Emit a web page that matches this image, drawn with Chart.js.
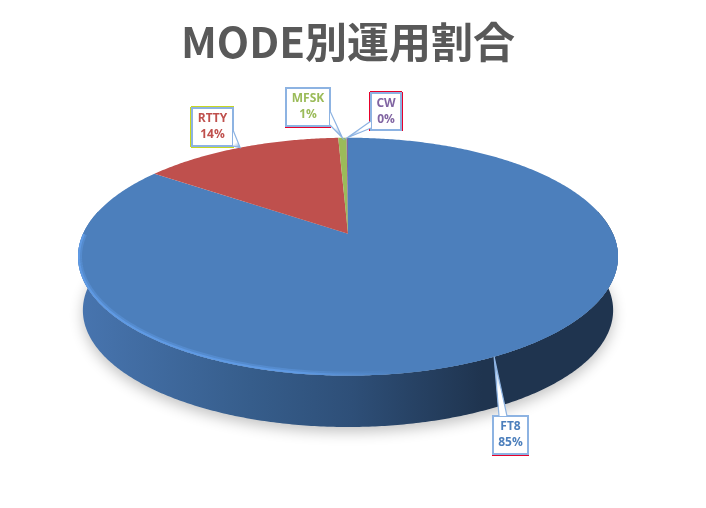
<!DOCTYPE html>
<html>
<head>
<meta charset="utf-8">
<title>MODE別運用割合</title>
<script src="https://cdn.jsdelivr.net/npm/chart.js@4"></script>
<style>
  html, body { margin: 0; padding: 0; background: #fff; }
  canvas { display: block; }
</style>
</head>
<body>
<canvas id="modeChart" width="706" height="508"></canvas>
<script>
const categories = ["FT8", "RTTY", "MFSK", "CW"];
const shares = [84.9, 14.4, 0.6, 0.1];
const sliceColors = ["#4c7fbc", "#bf504d", "#9bbb59", "#8064a2"];

// callout boxes, same order as categories
const calloutBoxes = [
  { x: 493, y: 416, w: 35, h: 38, base: [[499, 416], [507, 416]], edges: { bottom: "#e8002a" } },
  { x: 192, y: 108, w: 41, h: 38, base: [[233, 130], [233, 146]], edges: { left: "#c8d820", top: "#c8d820", bottom: "#c8d820" } },
  { x: 286, y: 88, w: 44, h: 38, base: [[330, 111], [330, 125]], edges: { bottom: "#e8002a" } },
  { x: 371, y: 93, w: 30, h: 37, base: [[371, 121], [371, 128]], edges: { left: "#e8002a", top: "#e8002a", right: "#e8002a" } }
];

// tilted disc: ratios against the arc radius the library gives us
const TILT = 0.193;
const STRETCH_X = 1.593;
const STRETCH_Y = 0.6885;
const WALL_DROP = 54;
const WALL_SHRINK = 0.982;

function project(arc, angle, drop = 0, shrink = 1) {
  const u = Math.cos(angle);
  const v = Math.sin(angle);
  const w = shrink / (1 - TILT * v);
  return {
    x: arc.x + arc.outerRadius * STRETCH_X * u * w,
    y: arc.y + arc.outerRadius * STRETCH_Y * v * w + drop
  };
}

function tracePoints(ctx, points, move = true) {
  points.forEach((p, i) => {
    if (i === 0 && move) ctx.moveTo(p.x, p.y);
    else ctx.lineTo(p.x, p.y);
  });
}

function sampleArc(arc, from, to, drop, shrink) {
  const points = [];
  const steps = Math.max(2, Math.ceil(Math.abs(to - from) / 0.01));
  for (let i = 0; i <= steps; i++) {
    points.push(project(arc, from + (to - from) * i / steps, drop, shrink));
  }
  return points;
}

function drawShadow(ctx, arc) {
  ctx.save();
  ctx.shadowColor = "rgba(0, 0, 0, 0.24)";
  ctx.shadowBlur = 14;
  ctx.shadowOffsetY = 5;
  ctx.fillStyle = "#ddd";
  ctx.beginPath();
  tracePoints(ctx, sampleArc(arc, 0, Math.PI * 2, WALL_DROP, WALL_SHRINK));
  ctx.closePath();
  ctx.fill();
  ctx.restore();
}

function drawWall(ctx, arc) {
  const from = Math.max(arc.startAngle, -0.2);
  const to = Math.min(arc.endAngle, Math.PI + 0.2);
  if (to <= from) return;
  const gradient = ctx.createLinearGradient(84, 0, 615, 0);
  gradient.addColorStop(0, "#4774ae");
  gradient.addColorStop(0.314, "#365d8b");
  gradient.addColorStop(0.504, "#2e4f78");
  gradient.addColorStop(0.75, "#1f344f");
  gradient.addColorStop(1, "#1f344f");
  ctx.fillStyle = gradient;
  ctx.beginPath();
  tracePoints(ctx, sampleArc(arc, from, to));
  tracePoints(ctx, sampleArc(arc, to, from, WALL_DROP, WALL_SHRINK), false);
  ctx.closePath();
  ctx.fill();
}

function drawFace(ctx, arc, color) {
  ctx.fillStyle = color;
  ctx.beginPath();
  ctx.moveTo(arc.x, arc.y);
  tracePoints(ctx, sampleArc(arc, arc.startAngle, arc.endAngle), false);
  ctx.closePath();
  ctx.fill();
}

// light bevel along the front edge, kept inside the top face
function drawRim(ctx, arc) {
  const from = Math.max(arc.startAngle, 0);
  const to = Math.min(arc.endAngle, Math.PI);
  if (to <= from) return;
  const gradient = ctx.createLinearGradient(78, 0, 620, 0);
  gradient.addColorStop(0, "#5f9ae4");
  gradient.addColorStop(0.4, "#5f9ae4");
  gradient.addColorStop(0.6, "#4c7fbc");
  gradient.addColorStop(1, "#4c7fbc");
  ctx.save();
  ctx.beginPath();
  tracePoints(ctx, sampleArc(arc, 0, Math.PI * 2));
  ctx.closePath();
  ctx.clip();
  ctx.strokeStyle = gradient;
  ctx.beginPath();
  tracePoints(ctx, sampleArc(arc, to, from, 0));
  ctx.globalAlpha = 0.45;
  ctx.lineWidth = 8;
  ctx.stroke();
  ctx.globalAlpha = 1;
  ctx.lineWidth = 4;
  ctx.stroke();
  ctx.restore();
}

function drawCallout(ctx, arc, index, total) {
  const box = calloutBoxes[index];
  const value = shares[index];
  const mid = (arc.startAngle + arc.endAngle) / 2;
  const tip = project(arc, mid);
  const [b1, b2] = box.base;
  const fade = ctx.createLinearGradient(tip.x, tip.y, (b1[0] + b2[0]) / 2, (b1[1] + b2[1]) / 2);
  fade.addColorStop(0, "#6f9fdc");
  fade.addColorStop(0.55, "#ffffff");
  fade.addColorStop(1, "#ffffff");

  ctx.fillStyle = "#fff";
  ctx.strokeStyle = "#8db3e2";
  ctx.lineWidth = 2;
  ctx.beginPath();
  ctx.rect(box.x, box.y, box.w, box.h);
  ctx.fill();
  ctx.stroke();

  ctx.lineWidth = 1;
  Object.entries(box.edges).forEach(([side, edgeColor]) => {
    ctx.strokeStyle = edgeColor;
    ctx.beginPath();
    if (side === "bottom" || side === "top") {
      const y = side === "top" ? box.y - 1.5 : box.y + box.h + 1.5;
      ctx.moveTo(box.x - 1, y);
      ctx.lineTo(box.x + box.w + 1, y);
    } else {
      const x = side === "left" ? box.x - 1.5 : box.x + box.w + 1.5;
      ctx.moveTo(x, box.y - 1);
      ctx.lineTo(x, box.y + box.h + 1);
    }
    ctx.stroke();
  });

  ctx.fillStyle = fade;
  ctx.strokeStyle = "#8db3e2";
  ctx.lineWidth = 1.2;
  ctx.beginPath();
  ctx.moveTo(b1[0], b1[1]);
  ctx.lineTo(tip.x, tip.y);
  ctx.lineTo(b2[0], b2[1]);
  ctx.fill();
  ctx.stroke();

  ctx.fillStyle = sliceColors[index];
  ctx.font = 'bold 12px "Open Sans", sans-serif';
  ctx.textAlign = "center";
  ctx.textBaseline = "middle";
  const cx = box.x + box.w / 2;
  ctx.fillText(categories[index], cx, box.y + 11);
  ctx.fillText(Math.round(value / total * 100) + "%", cx, box.y + 27);
}

const tiltedPie = {
  id: "tiltedPie",
  beforeDatasetsDraw(chart) {
    const ctx = chart.ctx;
    const arcs = chart.getDatasetMeta(0).data;
    const total = shares.reduce((sum, v) => sum + v, 0);
    drawShadow(ctx, arcs[0]);
    arcs.forEach((arc) => drawWall(ctx, arc));
    arcs.forEach((arc, i) => drawFace(ctx, arc, sliceColors[i]));
    arcs.forEach((arc) => drawRim(ctx, arc));
    arcs.forEach((arc, i) => drawCallout(ctx, arc, i, total));
    return false;
  }
};

new Chart(document.getElementById("modeChart").getContext("2d"), {
  type: "pie",
  data: {
    labels: categories,
    datasets: [{ data: shares, backgroundColor: sliceColors, borderWidth: 0 }]
  },
  options: {
    responsive: false,
    animation: false,
    devicePixelRatio: 1,
    layout: { padding: { top: 0, right: 10, bottom: 108, left: 0 } },
    plugins: {
      legend: { display: false },
      tooltip: { enabled: false },
      title: {
        display: true,
        text: "MODE別運用割合",
        color: "#595959",
        font: { family: '"Noto Sans CJK JP", sans-serif', size: 42, weight: "bold" },
        padding: { top: 17, bottom: 0 }
      }
    }
  },
  plugins: [tiltedPie]
});
</script>
</body>
</html>
